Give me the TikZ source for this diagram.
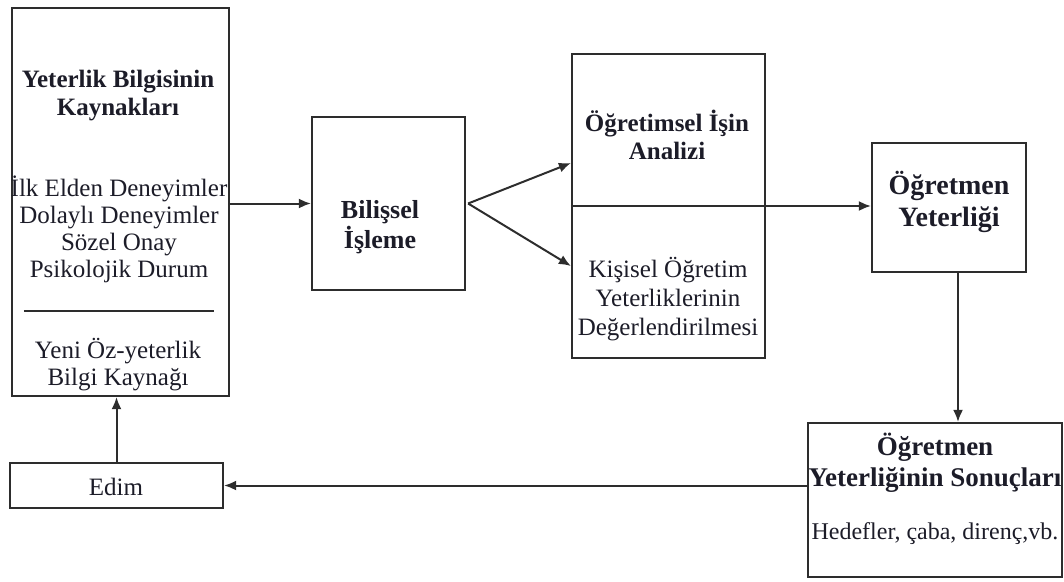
\documentclass[tikz,border=0pt]{standalone}
\usepackage{fontspec}
\setmainfont{Liberation Serif}
\usetikzlibrary{arrows.meta}
\definecolor{ink}{RGB}{28,28,40}
\definecolor{lineink}{RGB}{45,45,45}
\begin{document}
\begin{tikzpicture}[x=1pt,y=-1pt,
  box/.style={draw=lineink, line width=2.2pt, minimum width=#1},
  arr/.style={draw=lineink, line width=2pt, -{Latex[length=12pt,width=10pt]}},
  txt/.style={text=ink, align=center, inner sep=0pt, font=\fontsize{25}{27}\selectfont},
  btxt/.style={text=ink, align=center, inner sep=0pt, font=\fontsize{25}{28}\selectfont\bfseries}]
\useasboundingbox (0,0) rectangle (1064,581);
% boxes
\node[box=217pt, minimum height=388pt] (src) at (120.5,202) {};
\node[box=153pt, minimum height=173pt] (bil) at (388.5,203.5) {};
\node[box=193pt, minimum height=304pt] (mid) at (668.5,206) {};
\node[box=154pt, minimum height=129pt] (oy) at (949,207.5) {};
\node[box=254pt, minimum height=154pt] (son) at (935,500) {};
\node[box=213pt, minimum height=45pt] (edim) at (116.5,485.5) {};
% texts
\node[btxt] (srcT) at (118,96) {Yeterlik Bilgisinin\\Kaynakları};
\node[txt] (srcL) at (119,229) {İlk Elden Deneyimler\\Dolaylı Deneyimler\\Sözel Onay\\Psikolojik Durum};
\node[txt] (srcN) at (118,365) {Yeni Öz-yeterlik\\Bilgi Kaynağı};
\node[btxt, font=\fontsize{26}{30}\selectfont\bfseries] (bilT) at (380,227) {Bilişsel\\İşleme};
\node[btxt] (midT) at (667,135) {Öğretimsel İşin\\Analizi};
\node[txt, font=\fontsize{25}{29}\selectfont] (midB) at (668,299) {Kişisel Öğretim\\Yeterliklerinin\\Değerlendirilmesi};
\node[btxt, font=\fontsize{28}{32}\selectfont\bfseries] (oyT) at (949,202) {Öğretmen\\Yeterliği};
\node[btxt, font=\fontsize{27}{31}\selectfont\bfseries] (sonT) at (935,463) {Öğretmen\\Yeterliğinin Sonuçları};
\node[txt, font=\fontsize{24}{26}\selectfont] (sonB) at (935,534) {Hedefler, çaba, direnç,vb.};
\node[txt] (edimT) at (116,487) {Edim};
% divider in source box
\draw[lineink, line width=1.4pt] ([xshift=13pt]src.west |- 0,311) -- ([xshift=-16pt]src.east |- 0,311);
% connectors
\draw[arr] (src.east |- bil.west) -- (bil.west);
\coordinate (fork) at ([xshift=2pt]bil.east);
\draw[arr] (fork) -- (mid.west |- 0,163);
\draw[arr] (fork) -- (mid.west |- 0,266);
\draw[arr] (mid.west) -- (mid.west -| oy.west);
\draw[arr] ([xshift=9pt]oy.south) -- ([xshift=9pt]oy.south |- son.north);
\draw[arr] (son.west |- edim.east) -- (edim.east);
\draw[arr] (edim.north) -- (edim.north |- src.south);
\end{tikzpicture}
\end{document}
